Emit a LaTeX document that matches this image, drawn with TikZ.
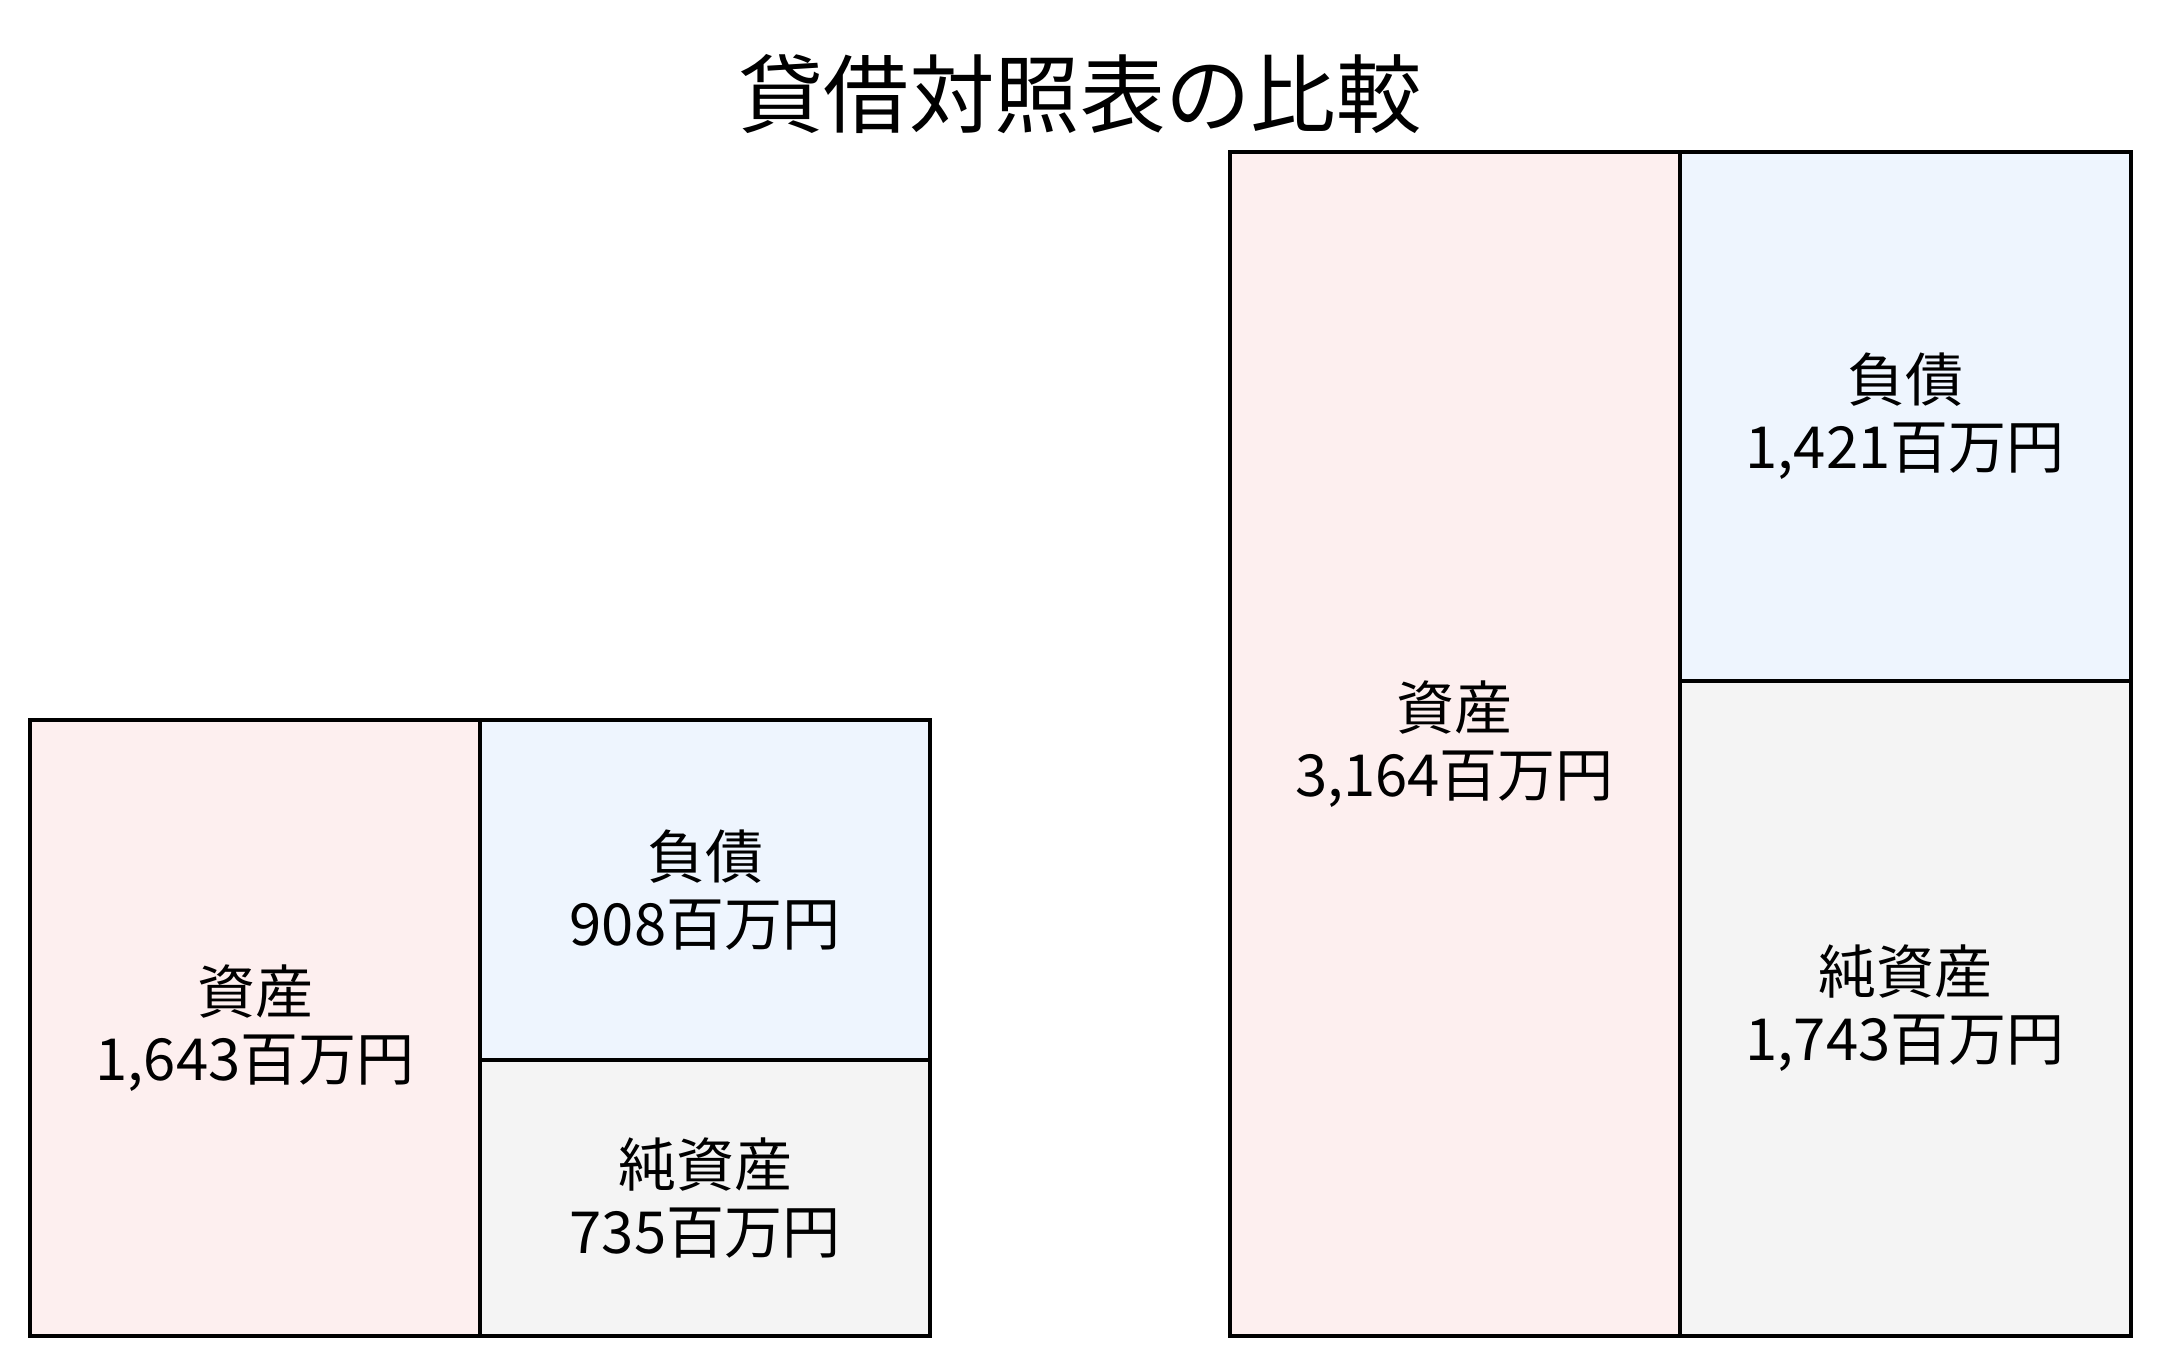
\documentclass[tikz,border=0pt]{standalone}
\usepackage{fontspec}
\setmainfont{Noto Sans CJK JP}
\usetikzlibrary{positioning}

\definecolor{assetfill}{HTML}{FDEFEF}
\definecolor{liabfill}{HTML}{EEF5FE}
\definecolor{equityfill}{HTML}{F4F4F4}

\begin{document}
\begin{tikzpicture}[x=1cm,y=1cm,
      every node/.style={outer sep=0pt,inner sep=0pt},
      part/.style={draw=black,line width=1.15pt,align=center,
        font=\fontsize{16.5}{19}\selectfont,minimum width=4.5cm},
      asset/.style={part,fill=assetfill},
      liab/.style={part,fill=liabfill},
      equity/.style={part,fill=equityfill}]
      \useasboundingbox (0,0) rectangle (21.6,13.66);
      \node[font=\fontsize{24.3}{29}\selectfont] (title) at (10.8,12.72) {貸借対照表の比較};
      % left sheet
      \node[asset, minimum height=6.16cm, anchor=north west] (a1) at (0.30,6.46) {資産\\1,643百万円};
      \node[liab, minimum height=3.40cm, anchor=north west] (l1) at (a1.north east) {負債\\908百万円};
      \node[equity, minimum height=2.76cm, anchor=north west] (e1) at (l1.south west) {純資産\\735百万円};
      % right sheet
      \node[asset, minimum height=11.84cm, anchor=north west] (a2) at (12.295,12.14) {資産\\3,164百万円};
      \node[liab, minimum height=5.29cm, minimum width=4.51cm, anchor=north west] (l2) at (a2.north east) {負債\\1,421百万円};
      \node[equity, minimum height=6.55cm, minimum width=4.51cm, anchor=north west] (e2) at (l2.south west) {純資産\\1,743百万円};
    \end{tikzpicture}
\end{document}
